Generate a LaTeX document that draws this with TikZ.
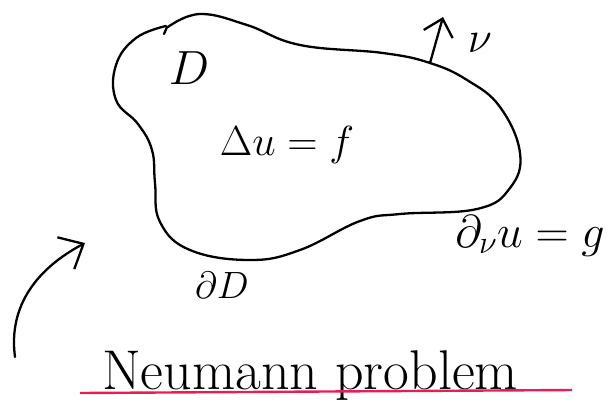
\documentclass[tikz,border=0pt]{standalone}
\usepackage{fix-cm}
\usetikzlibrary{arrows.meta}

\definecolor{underlinered}{RGB}{232,28,88}

\tikzset{
  sketch/.style={line width=2.3pt, line cap=round, line join=round, draw=black},
  handlabel/.style={inner sep=0pt, text=black},
}

\begin{document}
\begin{tikzpicture}[x=1pt,y=-1pt]
      \useasboundingbox (0,0) rectangle (616,400);

      % Boundary of the domain
      \draw[sketch] plot[smooth, tension=0.7] coordinates {
        (168,27) (200,14) (247,25) (300,45) (383,53) (430,63) (467,80)
        (500,107) (520,153) (510,188) (477,209) (400,214) (360,221)
        (300,250) (250,260) (190,250) (160,222) (155,183) (152,150)
        (138,124) (116,100) (116,65) (136,38) (166,26)
      };
      \coordinate (notch) at (167,27);
      \coordinate (hook) at (164,34);
      \draw[sketch] (notch) -- (hook);

      % Outward normal
      \coordinate (nbase) at (430,63);
      \coordinate (ntip) at (443,17);
      \draw[sketch, -{Straight Barb[length=16pt, width=30pt]}] (nbase) -- (ntip);

      % Labels inside and round the domain
      \node[handlabel, font=\fontsize{48}{50}\selectfont] (dom) at (189,68) {$D$};
      \node[handlabel, font=\fontsize{42}{44}\selectfont] (eqn) at (287,145) {$\Delta u = f$};
      \node[handlabel, font=\fontsize{44}{46}\selectfont] (nu) at (480,43) {$\nu$};
      \node[handlabel, font=\fontsize{46}{48}\selectfont, anchor=base] (bc) at (530,247) {$\partial_\nu u = g$};
      \node[handlabel, font=\fontsize{38}{40}\selectfont, anchor=base] (bdry) at (222,298) {$\partial D$};

      % Curved pointer from the corner
      \coordinate (pstart) at (15,357);
      \coordinate (pend) at (85,243);
      \draw[sketch, -{Straight Barb[length=20pt, width=36pt]}]
        (pstart) .. controls (8,305) and (38,268) .. (pend);

      % Title with its underline
      \node[handlabel, font=\fontsize{56}{58}\selectfont, anchor=base] (title) at (310,389) {Neumann problem};
      \coordinate (ulleft) at (80,393);
      \coordinate (ulright) at (572,390);
      \draw[line width=2.4pt, underlinered] (ulleft) -- (ulright);

\end{tikzpicture}
\end{document}
